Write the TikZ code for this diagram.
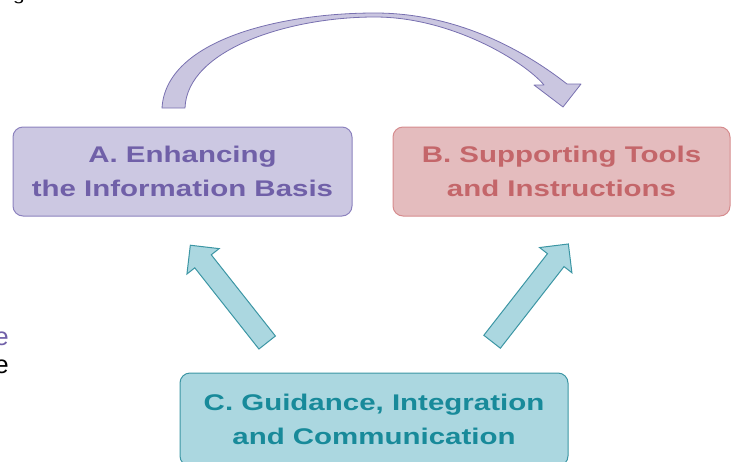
\documentclass[tikz,border=0pt]{standalone}
\usepackage{fontspec}
\setmainfont{Liberation Sans}
\usetikzlibrary{shapes.arrows}
\definecolor{purpfill}{RGB}{204,200,226}
\definecolor{purpline}{RGB}{140,130,190}
\definecolor{purptext}{RGB}{112,96,168}
\definecolor{curvefill}{RGB}{202,198,224}
\definecolor{curveline}{RGB}{120,112,176}
\definecolor{rosefill}{RGB}{228,188,190}
\definecolor{roseline}{RGB}{214,140,142}
\definecolor{rosetext}{RGB}{196,102,106}
\definecolor{tealfill}{RGB}{171,215,224}
\definecolor{tealline}{RGB}{60,150,164}
\definecolor{tealtext}{RGB}{24,138,154}
\newcommand{\wide}[1]{\scalebox{1.3}[1]{#1}}

\begin{document}
\begin{tikzpicture}[x=0.75pt,y=-0.75pt,
  box/.style={draw, rounded corners=7.5pt, line width=0.75pt, align=center, inner sep=0pt,
    font=\fontsize{17}{25.5}\selectfont\bfseries},
  blockarrow/.style={single arrow, draw=tealline, fill=tealfill, line width=0.75pt,
    minimum height=93pt, minimum width=30pt, single arrow head extend=7.5pt,
    inner xsep=0pt, inner ysep=7.5pt}]
\useasboundingbox (0,0) rectangle (732,461);

\node[anchor=base, inner sep=0pt, font=\fontsize{12}{14}\selectfont] (gcut) at (19,0) {\wide{g}};
\node[anchor=base east, inner sep=0pt, text=purptext, font=\fontsize{19}{22}\selectfont] (ecut1) at (9,345) {e};
\node[anchor=base east, inner sep=0pt, font=\fontsize{19}{22}\selectfont] (ecut2) at (9,373) {e};

\node[box, draw=purpline, fill=purpfill, text=purptext, minimum width=254.25pt, minimum height=66.75pt] (A) at (182.5,171.5) {\wide{A. Enhancing}\\\wide{the Information Basis}};
\node[box, draw=roseline, fill=rosefill, text=rosetext, minimum width=252.75pt, minimum height=66.75pt] (B) at (561.5,171.5) {\wide{B. Supporting Tools}\\\wide{and Instructions}};
\node[box, draw=tealline, fill=tealfill, text=tealtext, minimum width=291pt, minimum height=69.75pt] (C) at (374,419.5) {\wide{C. Guidance, Integration}\\\wide{and Communication}};

% block arrows from C
\node[blockarrow, rotate=128.3] (CA) at (232,298) {};
\node[blockarrow, rotate=52.05] (CB) at (527,297) {};

% curved arrow from A to B
\coordinate (tailout) at (162,108);
\coordinate (tailin) at (185,108);
\coordinate (top) at (375,13);
\coordinate (topin) at (375,17);
\coordinate (shaftout) at (567,84);
\coordinate (shaftin) at (544,85);
\coordinate (tip) at (563,107);
\draw[draw=curveline, fill=curvefill, line width=0.6pt, line join=round]
  (tailout) .. controls (166,40) and (280,13) .. (top)
  .. controls (462,13) and (530,55) .. (shaftout) -- (581,84) -- (tip) -- (534,85) -- (shaftin)
  .. controls (525,62) and (452,17) .. (topin)
  .. controls (287,17) and (187,50) .. (tailin) -- cycle;
\end{tikzpicture}
\end{document}
